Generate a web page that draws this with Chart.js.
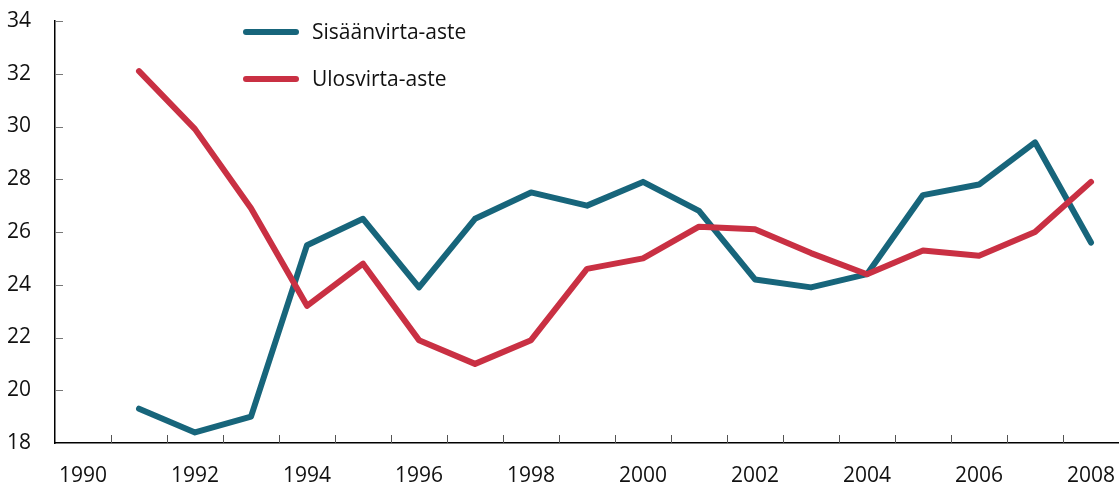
<!DOCTYPE html>
<html>
<head>
<meta charset="utf-8">
<script src="https://cdn.jsdelivr.net/npm/chart.js@4/dist/chart.umd.min.js"></script>
<style>
  html, body { margin: 0; padding: 0; background: #fff; overflow: hidden; }
  #wrap { width: 1119px; height: 489px; position: relative; }
  canvas { display: block; }
</style>
</head>
<body>
<div id="wrap"><canvas id="c"></canvas></div>
<script>
const years = ['1990','1991','1992','1993','1994','1995','1996','1997','1998','1999','2000','2001','2002','2003','2004','2005','2006','2007','2008'];
const sisaanvirta = [null, 19.3, 18.4, 19.0, 25.5, 26.5, 23.9, 26.5, 27.5, 27.0, 27.9, 26.8, 24.2, 23.9, 24.4, 27.4, 27.8, 29.4, 25.6];
const ulosvirta = [null, 32.1, 29.9, 26.9, 23.2, 24.8, 21.9, 21.0, 21.9, 24.6, 25.0, 26.2, 26.1, 25.2, 24.4, 25.3, 25.1, 26.0, 27.9];
const seriesNames = ['Sisäänvirta-aste', 'Ulosvirta-aste'];
const yMin = 18, yMax = 34, yStep = 2;

const TEAL = '#17657b';
const RED = '#c93043';
const FONT = "'Open Sans', 'DejaVu Sans', sans-serif";

function zeroPad(s) { s.paddingTop = 0; s.paddingBottom = 0; s.paddingLeft = 0; s.paddingRight = 0; }

const customDraw = {
  id: 'customDraw',
  afterDraw(chart) {
    const ctx = chart.ctx;
    const x = chart.scales.x, y = chart.scales.y;
    const area = chart.chartArea;
    ctx.save();
    ctx.strokeStyle = '#555';
    ctx.lineWidth = 1;
    for (let i = 1; i < years.length; i++) {
      const px = Math.round((x.getPixelForValue(i - 1) + x.getPixelForValue(i)) / 2) + 0.5;
      ctx.beginPath();
      ctx.moveTo(px, area.bottom);
      ctx.lineTo(px, area.bottom - 8);
      ctx.stroke();
    }
    ctx.strokeStyle = '#777';
    for (let v = yMin + yStep; v <= yMax; v += yStep) {
      const py = Math.round(y.getPixelForValue(v)) + 0.5;
      ctx.beginPath();
      ctx.moveTo(area.left, py);
      ctx.lineTo(area.left + 8, py);
      ctx.stroke();
    }
    const items = [[seriesNames[0], TEAL, 32], [seriesNames[1], RED, 79]];
    ctx.font = '21px ' + FONT;
    ctx.textBaseline = 'middle';
    ctx.textAlign = 'left';
    for (const [name, col, ly] of items) {
      ctx.strokeStyle = col;
      ctx.lineWidth = 6;
      ctx.lineCap = 'round';
      ctx.beginPath();
      ctx.moveTo(246, ly);
      ctx.lineTo(296, ly);
      ctx.stroke();
      ctx.fillStyle = '#111';
      ctx.fillText(name, 312, ly + 1);
    }
    ctx.restore();
  }
};

new Chart(document.getElementById('c'), {
  type: 'line',
  data: {
    labels: years,
    datasets: [
      { label: seriesNames[0], data: sisaanvirta, borderColor: TEAL, backgroundColor: TEAL, borderWidth: 6, pointRadius: 0, tension: 0, order: 1, borderCapStyle: 'round', borderJoinStyle: 'round' },
      { label: seriesNames[1], data: ulosvirta, borderColor: RED, backgroundColor: RED, borderWidth: 6, pointRadius: 0, tension: 0, order: 0, borderCapStyle: 'round', borderJoinStyle: 'round' }
    ]
  },
  options: {
    responsive: true,
    maintainAspectRatio: false,
    animation: false,
    devicePixelRatio: 1,
    layout: { padding: { top: 21, right: 0, left: 0, bottom: 0 } },
    plugins: { legend: { display: false }, tooltip: { enabled: false } },
    scales: {
      x: {
        type: 'category',
        offset: true,
        grid: { display: false, drawTicks: false },
        border: { display: true, color: '#000', width: 1.5 },
        ticks: {
          autoSkip: false,
          maxRotation: 0,
          padding: 20,
          color: '#111',
          font: { family: FONT, size: 21 },
          callback: function(val, idx) { const l = years[idx]; return (parseInt(l) % 2 === 0) ? l : ''; }
        },
        afterFit(s) { s.height = 46; zeroPad(s); }
      },
      y: {
        min: yMin, max: yMax,
        grid: { display: false, drawTicks: false },
        border: { display: true, color: '#000', width: 1.5 },
        ticks: {
          stepSize: yStep,
          padding: 24,
          color: '#111',
          font: { family: FONT, size: 21 }
        },
        afterFit(s) { s.width = 55; zeroPad(s); }
      }
    }
  },
  plugins: [customDraw]
});
</script>
</body>
</html>
